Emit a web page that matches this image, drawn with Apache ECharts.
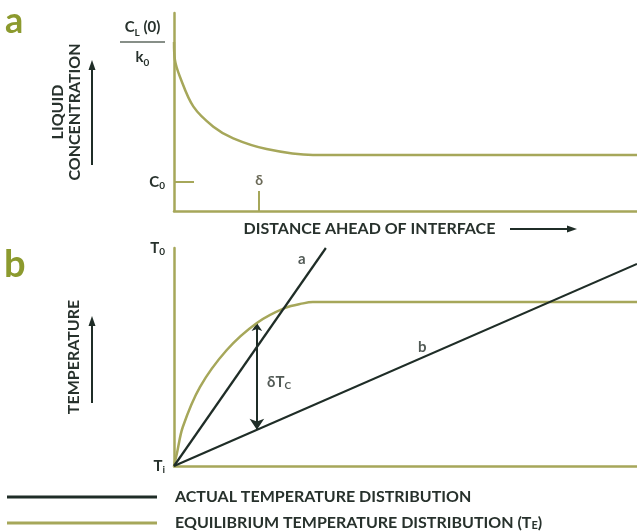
<!DOCTYPE html>
<html>
<head>
<meta charset="utf-8">
<script src="https://cdn.jsdelivr.net/npm/echarts@6/dist/echarts.min.js"></script>
<style>html,body{margin:0;padding:0;background:#fff;}#c{width:637px;height:532px;}</style>
</head>
<body>
<div id="c"></div>
<script>
// ---- Panel a: liquid concentration vs distance ahead of interface ----
const concX = [0, 0.2, 1.3, 4.2, 8.5, 12.8, 20, 30, 100];
const concY = [85.4, 76.3, 67.7, 52.7, 42.6, 36.7, 31.3, 28.3, 28.3];
const C0_LEVEL = 14.6;
const CL0_LEVEL = 85.4;
const DELTA_POS = 18.4;

// ---- Panel b: temperature vs distance ----
const eqX = [0, 0.65, 1.9, 5.6, 11.4, 17.9, 24, 27.9, 30, 100];
const eqY = [0, 6.0, 17.9, 36.2, 53.2, 65.6, 72.5, 74.6, 75.2, 75.2];
const lineAX = [0, 32.8];
const lineAY = [0, 100];
const lineBX = [0, 100];
const lineBY = [0, 92.7];
const deltaTcX = 17.9;
const deltaTcY = [65.6, 16.6];
const T0_LEVEL = 100;
const TI_LEVEL = 0;
const curveLabels = [
  {name: 'a', value: [27.6, 95.0]},
  {name: 'b', value: [53.6, 54.6]},
  {name: 'δTC', value: [22.7, 38.5]}
];

const NAME_ACTUAL = 'ACTUAL TEMPERATURE DISTRIBUTION';
const NAME_EQ = 'EQUILIBRIUM TEMPERATURE DISTRIBUTION (TE)';

const GREEN = '#a6a75a';
const DARK = '#1f2d27';
const TEXT = '#27312c';
const LETTER = '#8c9a2e';
const FONT = 'Lato';

const zip = (xs, ys) => xs.map((x, i) => [x, ys[i]]);

const sub = {
  n: {fontFamily: FONT, fontWeight: 'bold', fontSize: 15, color: TEXT, lineHeight: 18},
  s: {fontFamily: FONT, fontWeight: 'bold', fontSize: 10, color: TEXT, lineHeight: 10, verticalAlign: 'bottom'}
};

const GA = {left: 174, top: 13, right: 0, height: 198};
const GB = {left: 174, top: 248, right: 0, height: 218};

function arrow(x1, y1, x2, y2) {
  const dx = x2 - x1, dy = y2 - y1, L = Math.hypot(dx, dy);
  const ux = dx / L, uy = dy / L, hl = 10, hw = 3.5;
  const bx = x2 - ux * hl, by = y2 - uy * hl;
  return [
    {type: 'line', shape: {x1, y1, x2: bx, y2: by}, style: {stroke: DARK, lineWidth: 2}},
    {type: 'polygon', shape: {points: [[x2, y2], [bx - uy * hw, by + ux * hw], [bx + uy * hw, by - ux * hw]]}, style: {fill: DARK}}
  ];
}

const chart = echarts.init(document.getElementById('c'), null, {renderer: 'canvas'});

const axisLine = {show: true, onZero: false, lineStyle: {color: GREEN, width: 2.5}};

const option = {
  backgroundColor: '#ffffff',
  animation: false,
  textStyle: {fontFamily: FONT},
  grid: [GA, GB],
  xAxis: [
    {
      gridIndex: 0, type: 'value', min: 0, max: 100,
      axisLine: axisLine, splitLine: {show: false},
      axisTick: {show: true, inside: true, length: 20, customValues: [DELTA_POS], lineStyle: {color: GREEN, width: 2}},
      axisLabel: {show: true, inside: true, margin: 24, customValues: [DELTA_POS], formatter: () => 'δ',
        fontFamily: FONT, fontWeight: 'bold', fontSize: 14, color: '#6b6a58'},
      name: 'DISTANCE AHEAD OF INTERFACE', nameLocation: 'middle', nameGap: 10,
      nameTextStyle: {fontFamily: FONT, fontWeight: 'bold', fontSize: 16, color: TEXT, padding: [0, 72, 0, 0], verticalAlign: 'top'}
    },
    {
      gridIndex: 1, type: 'value', min: 0, max: 100,
      axisLine: axisLine, splitLine: {show: false}, axisTick: {show: false}, axisLabel: {show: false}
    }
  ],
  yAxis: [
    {
      gridIndex: 0, type: 'value', min: 0, max: 100,
      axisLine: axisLine, splitLine: {show: false},
      axisTick: {show: true, inside: true, length: 20, customValues: [C0_LEVEL], lineStyle: {color: GREEN, width: 2}},
      axisLabel: {
        show: true, margin: 9, customValues: [C0_LEVEL, CL0_LEVEL],
        formatter: v => (Math.abs(v - C0_LEVEL) < 0.01 ? '{n|C}{s|0}' : '{n2|C}{s2|L}{n2| (0)}\n{bar|}\n{n2|k}{s2|0}'),
        rich: Object.assign({}, sub, {
          bar: {width: 45, height: 1.5, lineHeight: 8, backgroundColor: '#5f6a60', align: 'center'},
          n2: {fontFamily: FONT, fontWeight: 'bold', fontSize: 15, color: TEXT, lineHeight: 22, align: 'center'},
          s2: {fontFamily: FONT, fontWeight: 'bold', fontSize: 10, color: TEXT, lineHeight: 14, verticalAlign: 'bottom', align: 'center'}
        })
      },
      name: 'LIQUID\nCONCENTRATION', nameLocation: 'middle', nameRotate: 90, nameGap: 91,
      nameTextStyle: {fontFamily: FONT, fontWeight: 'bold', fontSize: 16, lineHeight: 17, color: TEXT}
    },
    {
      gridIndex: 1, type: 'value', min: 0, max: 100,
      axisLine: axisLine, splitLine: {show: false}, axisTick: {show: false},
      axisLabel: {
        show: true, margin: 9, customValues: [TI_LEVEL, T0_LEVEL],
        formatter: v => (v === T0_LEVEL ? '{n|T}{s|0}' : '{n|T}{s|i}'),
        rich: sub
      },
      name: 'TEMPERATURE', nameLocation: 'middle', nameRotate: 90, nameGap: 92,
      nameTextStyle: {fontFamily: FONT, fontWeight: 'bold', fontSize: 16, lineHeight: 17, color: TEXT}
    }
  ],
  legend: {
    left: 7, top: 489, height: 43, padding: 0, orient: 'vertical', selectedMode: false,
    icon: 'rect', itemWidth: 150, itemHeight: 3, itemGap: 10,
    data: [NAME_ACTUAL, NAME_EQ],
    formatter: name => name === NAME_EQ ? '{t|EQUILIBRIUM TEMPERATURE DISTRIBUTION (}{t|T}{ls|E}{t|)}' : '{t|' + name + '}',
    textStyle: {
      padding: [0, 0, 0, 13],
      rich: {
        t: {fontFamily: FONT, fontWeight: 'bold', fontSize: 16, color: TEXT, lineHeight: 16},
        ls: {fontFamily: FONT, fontWeight: 'bold', fontSize: 11, color: TEXT, lineHeight: 10, verticalAlign: 'bottom'}
      }
    }
  },
  series: [
    {
      name: 'LIQUID CONCENTRATION', type: 'line', xAxisIndex: 0, yAxisIndex: 0,
      data: zip(concX, concY), smooth: 0.35, showSymbol: false, symbol: 'none',
      lineStyle: {color: GREEN, width: 2.5}, itemStyle: {color: GREEN}, silent: true
    },
    {
      name: NAME_EQ, type: 'line', xAxisIndex: 1, yAxisIndex: 1,
      data: zip(eqX, eqY), smooth: 0.35, showSymbol: false, symbol: 'none',
      lineStyle: {color: GREEN, width: 2.5}, itemStyle: {color: GREEN}, silent: true
    },
    {
      name: NAME_ACTUAL, type: 'line', xAxisIndex: 1, yAxisIndex: 1,
      data: zip(lineAX, lineAY), showSymbol: false, symbol: 'none',
      lineStyle: {color: DARK, width: 2.2}, itemStyle: {color: DARK}, silent: true
    },
    {
      name: NAME_ACTUAL, type: 'line', xAxisIndex: 1, yAxisIndex: 1,
      data: zip(lineBX, lineBY), showSymbol: false, symbol: 'none',
      lineStyle: {color: DARK, width: 2.2}, itemStyle: {color: DARK}, silent: true
    },
    {
      name: 'δTC', type: 'lines', coordinateSystem: 'cartesian2d', xAxisIndex: 1, yAxisIndex: 1,
      symbol: ['arrow', 'arrow'], symbolSize: [8, 11],
      lineStyle: {color: DARK, width: 2, opacity: 1},
      data: [{coords: [[deltaTcX, deltaTcY[0]], [deltaTcX, deltaTcY[1]]]}], silent: true
    },
    {
      name: 'labels', type: 'scatter', xAxisIndex: 1, yAxisIndex: 1, symbolSize: 0,
      data: curveLabels, silent: true,
      label: {
        show: true, position: 'inside',
        formatter: p => p.name === 'δTC' ? '{n|δT}{s|C}' : '{n|' + p.name + '}',
        rich: sub
      }
    }
  ],
  graphic: [
    {type: 'text', left: 5, top: 3, style: {text: 'a', fontFamily: FONT, fontWeight: 'bold', fontSize: 36, fill: LETTER}},
    {type: 'text', left: 4, top: 246, style: {text: 'b', fontFamily: FONT, fontWeight: 'bold', fontSize: 38, fill: LETTER}},
    ...arrow(92, 165, 92, 60),
    ...arrow(92, 403, 92, 316),
    ...arrow(510, 229, 577, 229)
  ]
};

chart.setOption(option);
</script>
</body>
</html>
